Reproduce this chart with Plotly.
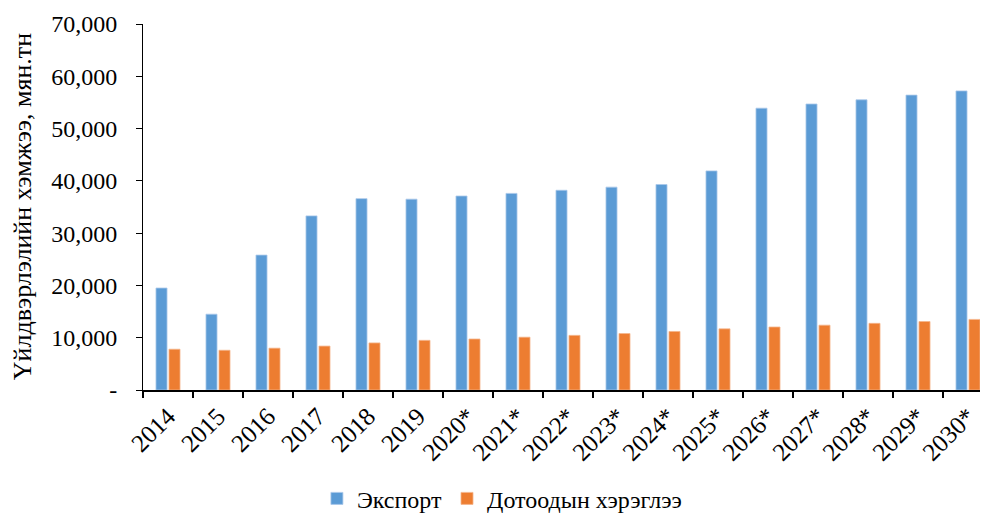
import plotly.graph_objects as go

years = ["2014", "2015", "2016", "2017", "2018", "2019", "2020*", "2021*", "2022*",
         "2023*", "2024*", "2025*", "2026*", "2027*", "2028*", "2029*", "2030*"]
export = [19500, 14500, 25800, 33300, 36600, 36500, 37100, 37600, 38200,
          38800, 39300, 41900, 53900, 54700, 55500, 56400, 57200]
domestic = [7800, 7600, 8000, 8400, 9000, 9500, 9750, 10100, 10450,
            10800, 11200, 11700, 12050, 12400, 12750, 13100, 13500]
y_ticks = [0, 10000, 20000, 30000, 40000, 50000, 60000, 70000]
y_tick_text = ["-", "10,000", "20,000", "30,000", "40,000", "50,000", "60,000", "70,000"]

FONT = "Liberation Serif"

fig = go.Figure()
fig.add_trace(go.Bar(x=years, y=export, name="Экспорт",
                     marker=dict(color="#5B9BD5", line=dict(color="#A9C8EA", width=0.8))))
fig.add_trace(go.Bar(x=years, y=domestic, name="Дотоодын хэрэглээ",
                     marker=dict(color="#ED7D31", line=dict(color="#F5B58C", width=0.8))))

fig.update_layout(
    width=980, height=507,
    margin=dict(l=135, r=0, t=16, b=125, autoexpand=False),
    plot_bgcolor="white", paper_bgcolor="white",
    barmode="group", bargap=0.48, bargroupgap=0.15,
    font=dict(family=FONT, color="black", size=22),
    showlegend=True,
    legend=dict(orientation="h", xref="container", yref="container",
                x=0.504, xanchor="center", y=0.032, yanchor="middle",
                font=dict(family=FONT, size=24), itemwidth=30, traceorder="normal"),
    annotations=[dict(text="Үйлдвэрлэлийн хэмжээ, мян.тн", textangle=-90,
                      xref="paper", yref="paper", x=-0.143, y=0.5,
                      xanchor="center", yanchor="middle", showarrow=False,
                      font=dict(family=FONT, size=26, color="black"))],
)
fig.update_xaxes(
    type="category", range=[-0.5, 16.4], automargin=False,
    showline=True, linecolor="black", linewidth=1.5,
    ticks="outside", tickson="boundaries", ticklen=6, tickcolor="black", tickwidth=1.5,
    tickangle=-45, tickfont=dict(family=FONT, size=25),
    showgrid=False,
)
fig.update_yaxes(
    range=[0, 70000], tickvals=y_ticks, ticktext=y_tick_text, automargin=False,
    showline=True, linecolor="black", linewidth=1,
    ticks="outside", ticklen=6, tickcolor="black",
    tickfont=dict(family=FONT, size=24), ticklabelstandoff=14,
    showgrid=False, zeroline=False,
)

fig.write_html("out.html")
